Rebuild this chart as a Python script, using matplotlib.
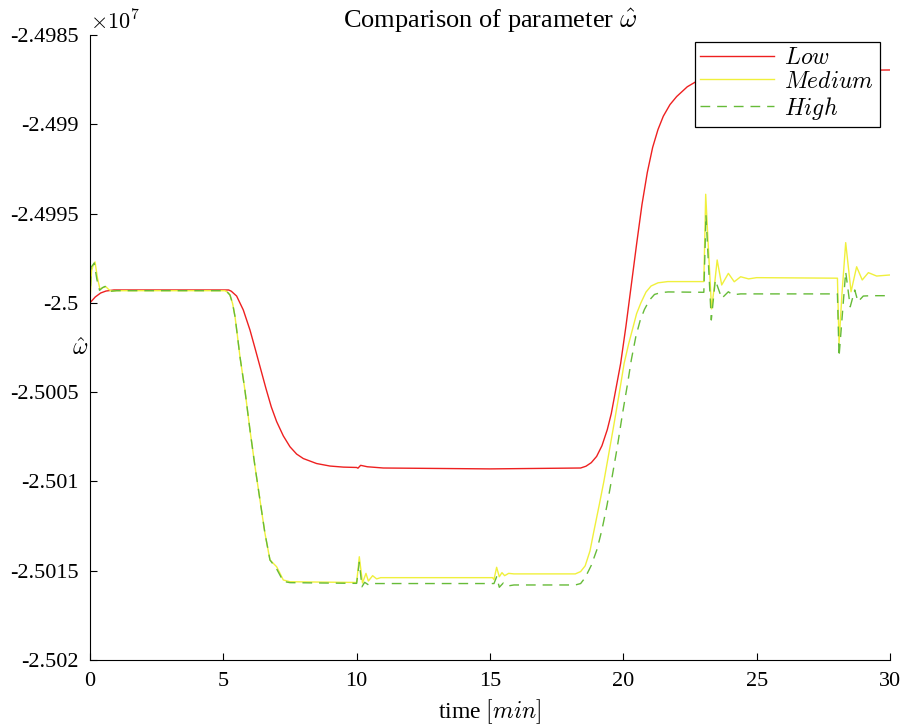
import matplotlib
matplotlib.use('Agg')
import matplotlib.pyplot as plt
import numpy as np

# values are in units of 1e7 (axis shows x10^7 multiplier)
t_low = [0, 0.2, 0.4, 0.6, 0.9, 5.2, 5.3, 5.5, 5.75, 6.0, 6.2, 6.4, 6.6,
         6.8, 7.0, 7.25, 7.5, 7.75, 8.0, 8.5, 9.0, 9.5, 10.0, 10.05, 10.15,
         10.4, 11.0, 15.0, 18.4, 18.6, 18.8, 19.0, 19.2, 19.4, 19.55, 19.7,
         19.9, 20.1, 20.3, 20.5, 20.7, 20.9, 21.1, 21.3, 21.5, 21.75, 22.0,
         22.4, 22.8, 23.5, 25.0, 30.0]
w_low = [-2.500000, -2.499967, -2.499945, -2.499934, -2.499928, -2.499928,
         -2.499935, -2.499962, -2.500040, -2.500152, -2.500260, -2.500370,
         -2.500480, -2.500583, -2.500665, -2.500745, -2.500806, -2.500847,
         -2.500872, -2.500900, -2.500914, -2.500920, -2.500922, -2.500926,
         -2.500910, -2.500918, -2.500925, -2.500930, -2.500925, -2.500915,
         -2.500895, -2.500860, -2.500800, -2.500710, -2.500620, -2.500500,
         -2.500340, -2.500130, -2.499900, -2.499670, -2.499450, -2.499270,
         -2.499130, -2.499030, -2.498955, -2.498890, -2.498845, -2.498790,
         -2.498755, -2.498724, -2.498704, -2.498696]

t_med = [0, 0.06, 0.12, 0.19, 0.28, 0.375, 0.48, 0.59, 0.7, 0.81, 1.0, 5.06,
         5.15, 5.25, 5.35, 5.44, 5.53, 5.625, 5.81, 6.0, 6.19, 6.375, 6.56,
         6.75, 7.0, 7.25, 7.5, 10.0, 10.06, 10.1, 10.22, 10.35, 10.44, 10.6,
         10.75, 10.9, 15.1, 15.15, 15.25, 15.35, 15.45, 15.55, 15.7, 15.9,
         18.2, 18.4, 18.57, 18.75, 18.89, 19.1, 19.27, 19.45, 19.65, 19.85,
         20.03, 20.2, 20.34, 20.5, 20.66, 20.85, 21.04, 21.3, 21.67, 23.02,
         23.09, 23.2, 23.31, 23.42, 23.52, 23.69, 23.94, 24.16, 24.4, 24.7,
         25.0, 28.03, 28.09, 28.2, 28.34, 28.54, 28.75, 28.96, 29.19, 29.5,
         30.0]
w_med = [-2.500000, -2.499820, -2.499790, -2.499771, -2.499860, -2.499924,
         -2.499915, -2.499909, -2.499925, -2.499934, -2.499932, -2.499932,
         -2.499940, -2.499956, -2.500005, -2.500078, -2.500185, -2.500302,
         -2.500488, -2.500712, -2.500918, -2.501104, -2.501289, -2.501440,
         -2.501478, -2.501552, -2.501562, -2.501566, -2.501480, -2.501422,
         -2.501569, -2.501515, -2.501558, -2.501528, -2.501546, -2.501539,
         -2.501539, -2.501550, -2.501481, -2.501534, -2.501511, -2.501528,
         -2.501515, -2.501518, -2.501518, -2.501505, -2.501473, -2.501390,
         -2.501284, -2.501130, -2.501001, -2.500850, -2.500680, -2.500505,
         -2.500340, -2.500230, -2.500151, -2.500060, -2.500000, -2.499940,
         -2.499906, -2.499888, -2.499881, -2.499881, -2.499392, -2.499720,
         -2.500034, -2.499900, -2.499760, -2.499900, -2.499835, -2.499882,
         -2.499854, -2.499866, -2.499859, -2.499862, -2.500227, -2.499950,
         -2.499663, -2.499938, -2.499798, -2.499872, -2.499831, -2.499850,
         -2.499844]

t_high = [0, 0.04, 0.1, 0.16, 0.26, 0.36, 0.47, 0.57, 0.68, 0.8, 1.0, 5.06,
          5.15, 5.25, 5.35, 5.44, 5.53, 5.625, 5.81, 6.0, 6.19, 6.375, 6.56,
          6.75, 7.0, 7.25, 7.5, 10.0, 10.06, 10.1, 10.2, 10.3, 10.45, 10.7,
          15.15, 15.25, 15.35, 15.5, 15.65, 15.9, 18.2, 18.4, 18.57, 18.8,
          19.02, 19.2, 19.39, 19.58, 19.77, 19.96, 20.16, 20.3, 20.47, 20.63,
          20.79, 20.98, 21.17, 21.4, 21.68, 23.02, 23.1, 23.3, 23.45, 23.69,
          23.94, 24.1, 24.4, 28.03, 28.09, 28.34, 28.51, 28.68, 28.8, 29.0,
          29.3, 30.0]
w_high = [-2.500000, -2.499800, -2.499790, -2.499777, -2.499870, -2.499930,
          -2.499915, -2.499908, -2.499925, -2.499935, -2.499932, -2.499932,
          -2.499940, -2.499956, -2.500005, -2.500078, -2.500185, -2.500302,
          -2.500488, -2.500712, -2.500918, -2.501104, -2.501289, -2.501440,
          -2.501490, -2.501560, -2.501567, -2.501571, -2.501500, -2.501453,
          -2.501590, -2.501565, -2.501580, -2.501572, -2.501572, -2.501534,
          -2.501593, -2.501569, -2.501586, -2.501580, -2.501580, -2.501572,
          -2.501539, -2.501470, -2.501378, -2.501270, -2.501133, -2.500975,
          -2.500812, -2.500630, -2.500453, -2.500320, -2.500189, -2.500100,
          -2.500038, -2.499985, -2.499953, -2.499943, -2.499939, -2.499941,
          -2.499508, -2.500096, -2.499872, -2.499975, -2.499938, -2.499955,
          -2.499950, -2.499950, -2.500302, -2.499826, -2.500022, -2.499928,
          -2.499994, -2.499962, -2.499960, -2.499960]

x_ticks = [0, 5, 10, 15, 20, 25, 30]
y_ticks = [-2.502, -2.5015, -2.501, -2.5005, -2.5, -2.4995, -2.499, -2.4985]


def main():
    plt.rcParams['font.family'] = ['Liberation Serif', 'DejaVu Serif']
    plt.rcParams['mathtext.fontset'] = 'cm'
    plt.rcParams['font.size'] = 16

    fig = plt.figure(figsize=(9.06, 7.27), dpi=100)
    ax = fig.add_axes([0.0993, 0.0922, 0.8830, 0.8597])

    ax.plot(t_low, w_low, color='#ee2020', lw=1.0, label='$Low$')
    ax.plot(t_med, w_med, color='#f0f03c', lw=1.0, label='$Medium$')
    ax.plot(t_high, w_high, color='#66bb38', lw=1.0, dashes=(7, 5),
            label='$High$')

    ax.set_xlim(0, 30)
    ax.set_ylim(-2.502, -2.4985)
    ax.set_xticks(x_ticks)
    ax.set_yticks(y_ticks)
    ax.set_xticklabels([str(x) for x in x_ticks])
    ax.set_yticklabels(['%g' % y for y in y_ticks])
    ax.tick_params(direction='in', length=5, width=0.8, labelsize=16)
    ax.tick_params(axis='x', pad=9)
    ax.tick_params(axis='y', pad=8)
    for side in ['top', 'right']:
        ax.spines[side].set_visible(False)

    ax.set_title(r'Comparison of parameter $\hat{\omega}$', fontsize=19,
                 pad=3)
    ax.set_xlabel(r'time $[min]$', fontsize=17, labelpad=4)
    ax.set_ylabel(r'$\hat{\omega}$', fontsize=17, rotation=0)
    ax.yaxis.set_label_coords(-0.012, 0.48)
    ax.text(0.0, 1.0, r'$\times10^{7}$', transform=ax.transAxes,
            ha='left', va='bottom', fontsize=16)

    leg = ax.legend(loc='upper right', bbox_to_anchor=(0.9875, 0.989),
                    borderaxespad=0, fancybox=False, edgecolor='black',
                    framealpha=1, handlelength=3.1, handletextpad=0.45,
                    labelspacing=0.08, borderpad=0.25, fontsize=17)
    leg.get_frame().set_linewidth(0.9)

    fig.savefig('out.png', dpi=100)


if __name__ == '__main__':
    main()
